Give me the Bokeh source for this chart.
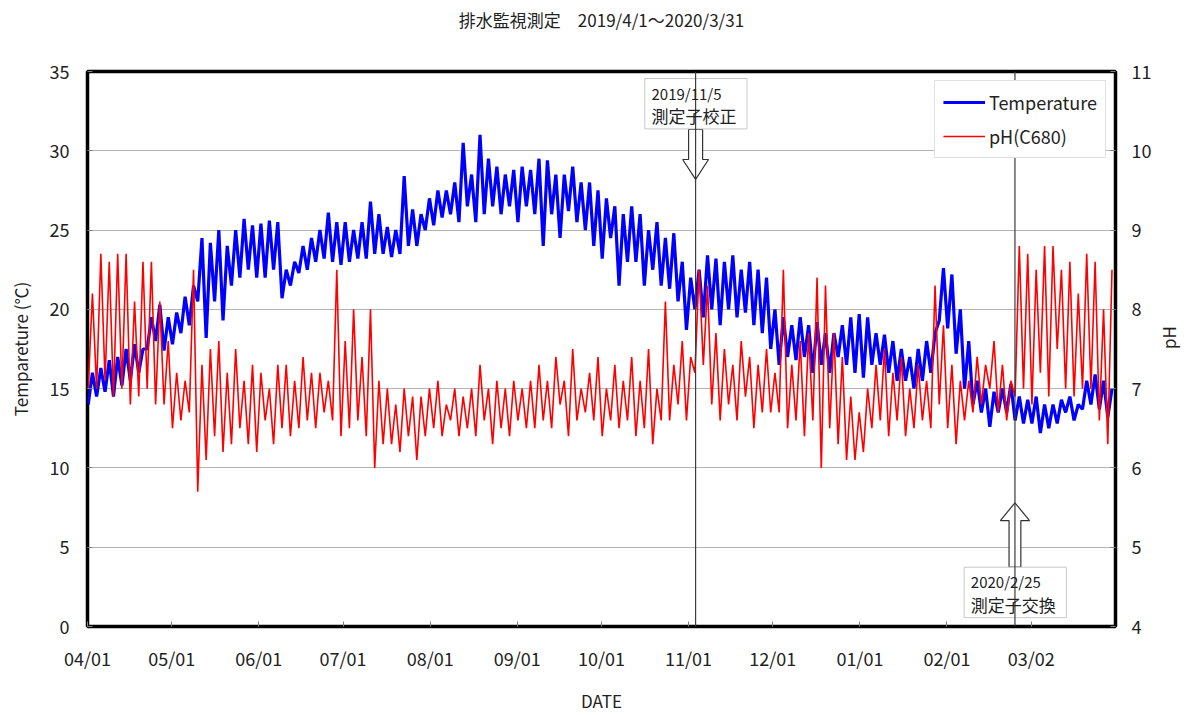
from math import pi
from bokeh.plotting import figure
from bokeh.models import (Range1d, LinearAxis, FixedTicker, Span, Label,
                          Legend, LegendItem)
from bokeh.embed import file_html
from bokeh.resources import INLINE

FONT = "Noto Sans CJK JP"

# ---- x axis: days since 2019-04-01 ----
month_days = [0, 30, 61, 91, 122, 153, 183, 214, 244, 275, 306, 336]
month_labels = ["04/01", "05/01", "06/01", "07/01", "08/01", "09/01",
                "10/01", "11/01", "12/01", "01/01", "02/01", "03/02"]
BIN = 3  # each pair below covers 3 days (low / high)

# ---- Temperature (deg C): low / high per 3-day bin ----
temp_lo = [14.0, 14.5, 14.8, 14.5, 15.2, 15.5, 16.0, 17.5, 18.0, 17.4,
           17.8, 18.5, 19.0, 20.5, 18.2, 20.5, 19.3, 21.5, 22.0, 22.5,
           22.0, 22.0, 22.5, 20.7, 21.5, 22.3, 22.5, 23.0, 23.2, 23.0,
           22.8, 23.0, 23.2, 23.2, 23.5, 23.5, 23.3, 23.5, 24.0, 24.0,
           25.0, 25.3, 25.8, 26.0, 25.5, 26.5, 25.5, 26.0, 26.5, 26.0,
           26.5, 25.5, 26.5, 26.0, 24.0, 26.0, 24.5, 26.2, 25.5, 25.0,
           24.0, 23.2, 24.5, 21.5, 23.0, 23.0, 21.5, 22.5, 21.5, 21.3,
           20.5, 18.7, 20.0, 19.5, 20.0, 19.0, 20.0, 19.5, 19.8, 19.0,
           18.5, 17.5, 16.5, 17.0, 16.8, 17.0, 16.0, 16.5, 16.0, 17.0,
           16.5, 16.0, 15.7, 16.5, 16.5, 16.0, 15.5, 15.5, 15.0, 15.5,
           16.0, 19.3, 18.8, 17.2, 15.0, 14.0, 13.5, 12.6, 13.5, 13.5,
           13.0, 12.8, 12.8, 12.2, 12.5, 12.8, 13.5, 13.0, 13.7, 14.0,
           13.7, 13.2]
temp_hi = [16.0, 16.3, 16.8, 17.0, 17.5, 17.8, 17.5, 19.5, 20.3, 19.5,
           19.8, 20.8, 21.5, 24.5, 24.2, 25.0, 24.0, 25.0, 25.7, 25.3,
           25.4, 25.6, 25.5, 22.5, 23.0, 24.0, 24.5, 25.0, 26.1, 25.5,
           25.5, 25.0, 25.5, 26.8, 26.0, 25.2, 25.0, 28.4, 26.3, 26.0,
           27.0, 27.5, 27.5, 28.0, 30.5, 28.5, 31.0, 29.5, 29.0, 28.5,
           28.8, 29.0, 28.8, 29.5, 29.4, 28.5, 28.5, 29.0, 28.0, 28.0,
           27.5, 27.0, 26.5, 26.0, 26.5, 26.0, 25.0, 25.5, 24.5, 24.8,
           23.0, 22.0, 22.5, 23.4, 23.2, 23.0, 23.4, 22.5, 23.0, 22.5,
           22.0, 20.0, 19.5, 19.0, 19.5, 19.0, 19.2, 18.5, 18.5, 19.0,
           19.5, 19.7, 19.5, 18.5, 18.4, 18.0, 17.5, 17.0, 17.5, 18.0,
           18.5, 22.6, 22.2, 20.0, 18.0, 15.5, 15.0, 14.8, 15.0, 15.3,
           14.5, 14.3, 14.5, 14.0, 14.0, 14.3, 14.5, 14.0, 15.5, 15.9,
           15.5, 15.0]

# ---- pH: low / high per 3-day bin ----
ph_lo = [7.0, 7.0, 7.1, 6.9, 7.0, 6.8, 6.9, 7.0, 6.8, 6.8,
         6.5, 6.6, 6.7, 5.7, 6.1, 6.4, 6.2, 6.3, 6.5, 6.3,
         6.2, 6.6, 6.3, 6.5, 6.4, 6.5, 6.6, 6.5, 6.7, 6.6,
         6.4, 6.5, 6.6, 6.4, 6.0, 6.3, 6.3, 6.2, 6.4, 6.1,
         6.4, 6.5, 6.4, 6.6, 6.4, 6.5, 6.4, 6.6, 6.3, 6.5,
         6.4, 6.6, 6.5, 6.5, 6.6, 6.5, 6.8, 6.4, 6.6, 6.7,
         6.6, 6.4, 6.6, 6.5, 6.6, 6.4, 6.5, 6.3, 6.6, 6.6,
         6.8, 6.6, 7.2, 7.3, 6.8, 6.6, 6.8, 6.6, 6.9, 6.5,
         6.7, 6.7, 6.7, 6.5, 6.6, 6.4, 6.6, 6.0, 6.5, 6.3,
         6.1, 6.1, 6.2, 6.5, 6.6, 6.4, 6.6, 6.4, 6.5, 6.6,
         6.5, 6.8, 6.5, 6.3, 6.6, 6.7, 6.8, 7.0, 6.7, 6.6,
         6.9, 7.0, 6.8, 7.2, 6.9, 7.5, 7.0, 6.9, 7.0, 7.0,
         6.6, 6.3]
ph_hi = [8.2, 8.7, 8.6, 8.7, 8.7, 8.1, 8.6, 8.6, 8.1, 7.6,
         7.2, 7.1, 8.5, 7.3, 7.5, 7.6, 7.2, 7.5, 7.1, 7.3,
         7.2, 7.0, 7.3, 7.3, 7.1, 7.4, 7.2, 7.2, 7.1, 8.5,
         7.6, 8.0, 7.4, 8.0, 7.1, 7.0, 6.8, 7.0, 6.9, 6.9,
         7.0, 7.1, 6.8, 7.0, 6.9, 7.0, 7.3, 7.0, 7.1, 7.0,
         7.1, 7.0, 7.1, 7.3, 7.1, 7.4, 7.1, 7.5, 7.0, 7.2,
         7.4, 7.0, 7.3, 7.1, 7.4, 7.1, 7.5, 7.0, 8.1, 7.3,
         7.6, 7.4, 8.5, 8.3, 7.7, 7.5, 7.3, 7.6, 7.4, 7.3,
         7.5, 7.2, 8.5, 7.3, 7.6, 7.7, 8.4, 8.3, 7.7, 7.4,
         6.9, 6.7, 7.0, 7.3, 7.5, 7.2, 7.4, 7.0, 7.3, 7.1,
         8.3, 7.8, 7.3, 7.1, 7.1, 7.4, 7.3, 7.6, 7.3, 7.1,
         8.8, 8.7, 8.5, 8.8, 8.8, 8.5, 8.6, 8.2, 8.7, 8.6,
         8.0, 8.5]

# ---- events ----
event_days = [216.5, 330.2]
event_dates = ["2019/11/5", "2020/2/25"]
event_texts = ["測定子校正", "測定子交換"]

title_text = "排水監視測定　2019/4/1～2020/3/31"


def zigzag(lo, hi):
    xs, ys = [], []
    for i, (a, b) in enumerate(zip(lo, hi)):
        xs += [BIN * i + 0.25, BIN * i + 1.75]
        ys += [a, b]
    return xs, ys


tx, ty = zigzag(temp_lo, temp_hi)
px_, py_ = zigzag(ph_lo, ph_hi)

p = figure(width=1196, height=715, x_range=Range1d(0, 366), y_range=Range1d(0, 35),
           output_backend="svg", toolbar_location=None,
           min_border_left=87, min_border_right=81, min_border_top=71, min_border_bottom=83)
p.extra_y_ranges = {"ph": Range1d(4, 11)}
p.outline_line_color = "black"
p.outline_line_width = 3.5
p.background_fill_color = "white"

xaxis = p.below[0]
yaxis = p.left[0]

# axes
yaxis.ticker = FixedTicker(ticks=list(range(0, 36, 5)))
yaxis.axis_label = "Tempareture (℃)"
xaxis.ticker = FixedTicker(ticks=month_days)
xaxis.major_label_overrides = {d: l for d, l in zip(month_days, month_labels)}
xaxis.axis_label = "DATE"
ph_axis = LinearAxis(y_range_name="ph", ticker=FixedTicker(ticks=list(range(4, 12))),
                     axis_label="pH")
p.add_layout(ph_axis, "right")
try:
    ph_axis.axis_label_orientation = pi / 2
except Exception:
    pass

for ax in [xaxis, yaxis, ph_axis]:
    ax.axis_line_color = None
    ax.major_tick_out = 0
    ax.major_tick_in = 5
    ax.major_tick_line_color = "#808080"
    ax.minor_tick_line_color = None
    ax.major_label_text_font = FONT
    ax.major_label_text_font_size = "18px"
    ax.major_label_text_color = "#222222"
    ax.axis_label_text_font = FONT
    ax.axis_label_text_font_size = "17px"
    ax.axis_label_text_font_style = "normal"
    ax.axis_label_text_color = "#222222"
yaxis.major_label_standoff = 18
yaxis.axis_label_standoff = 14
ph_axis.major_label_standoff = 16
ph_axis.axis_label_standoff = 14
xaxis.major_label_standoff = 18
xaxis.axis_label_standoff = 14

# title, carried by a tick-less axis above the frame so it sits near the page top
title_axis = LinearAxis(ticker=FixedTicker(ticks=[]), axis_label=title_text)
title_axis.axis_line_color = None
title_axis.major_tick_in = 0
title_axis.major_tick_out = 0
title_axis.minor_tick_line_color = None
title_axis.major_label_text_font_size = "1px"
title_axis.axis_label_text_font = FONT
title_axis.axis_label_text_font_size = "17px"
title_axis.axis_label_text_font_style = "normal"
title_axis.axis_label_text_color = "#222222"
title_axis.axis_label_standoff = 40
p.add_layout(title_axis, "above")

p.xgrid.visible = False
p.ygrid.ticker = FixedTicker(ticks=list(range(5, 35, 5)))
p.ygrid.grid_line_color = "#b4b4b4"
p.ygrid.grid_line_width = 1

# data lines
r_t = p.line(tx, ty, line_color="#0000ff", line_width=3.2)
r_ph = p.line(px_, py_, line_color="#ff0000", line_width=1.6, y_range_name="ph")

# event lines
for d in event_days:
    p.add_layout(Span(location=d, dimension="height", line_color="#3c3c3c", line_width=1.2))

# down arrow (calibration) and up arrow (replacement)
e1, e2 = event_days
p.patch([e1 - 2.5, e1 + 2.5, e1 + 2.5, e1 + 4.6, e1, e1 - 4.6, e1 - 2.5],
        [31.35, 31.35, 29.45, 29.45, 28.2, 29.45, 29.45],
        fill_color="white", line_color="#333333", line_width=1.2)
p.patch([e2 - 2.1, e2 + 2.1, e2 + 2.1, e2 + 5.2, e2, e2 - 5.2, e2 - 2.1],
        [3.74, 3.74, 6.68, 6.68, 7.8, 6.68, 6.68],
        fill_color="white", line_color="#333333", line_width=1.2)

# annotation boxes
box_top = [34.56, 3.74]
box_bot = [31.38, 0.56]
for d, top, bot, dt, tt in zip(event_days, box_top, box_bot, event_dates, event_texts):
    p.quad(left=d - 18.1, right=d + 18.3, top=top, bottom=bot,
           fill_color="white", line_color="#c8c8c8", line_width=1)
    h = top - bot
    p.add_layout(Label(x=d - 15.7, y=top - h * 0.29, text=dt, text_font=FONT,
                       text_font_size="15px", text_align="left", text_baseline="middle",
                       text_color="#222222"))
    p.add_layout(Label(x=d - 15.7, y=top - h * 0.74, text=tt, text_font=FONT,
                       text_font_size="17px", text_align="left", text_baseline="middle",
                       text_color="#222222"))

# legend
legend = Legend(items=[LegendItem(label="Temperature", renderers=[r_t]),
                       LegendItem(label="pH(C680)", renderers=[r_ph])],
                location="top_right")
legend.margin = 9
legend.padding = 8
legend.spacing = 8
legend.glyph_width = 42
legend.label_standoff = 4
legend.label_text_font = FONT
legend.label_text_font_size = "18px"
legend.label_text_color = "#222222"
legend.border_line_color = "#c0c0c0"
legend.border_line_width = 1
legend.background_fill_alpha = 1
p.add_layout(legend)

open("out.html", "w").write(file_html(p, INLINE))
